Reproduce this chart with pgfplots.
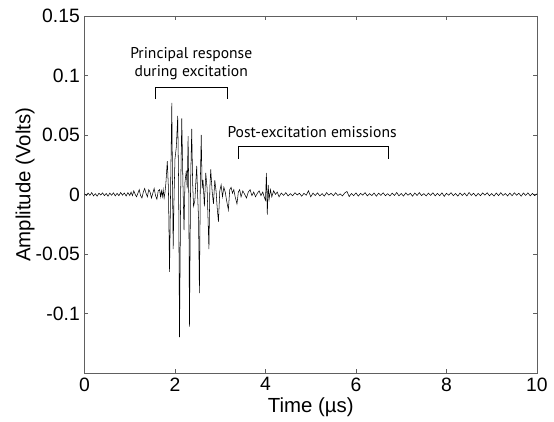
\documentclass[border=0pt]{standalone}
\usepackage{fontspec}
\setmainfont{Liberation Sans}
\newfontfamily\annfont{PT Sans}
\usepackage{pgfplots}
\pgfplotsset{compat=1.18}
\begin{document}
\begin{tikzpicture}
\begin{axis}[
  scale only axis,
  width=339.4pt, height=267.75pt,
  xmin=0, xmax=10, ymin=-0.15, ymax=0.15,
  xtick={0,2,4,6,8,10},
  ytick={-0.1,-0.05,0,0.05,0.1,0.15},
  yticklabels={-0.1,-0.05,0,0.05,0.1,0.15},
  tick align=inside,
  major tick length=3pt,
  axis line style={gray!75!black, line width=0.6pt},
  tick style={gray!75!black, line width=0.5pt},
  /pgf/number format/assume math mode=true,
  ticklabel style={font=\fontsize{14.5}{16}\selectfont},
  label style={font=\fontsize{15.3}{17}\selectfont},
  xlabel={Time (µs)},
  ylabel={Amplitude (Volts)},
  xlabel style={at={(axis description cs:0.5,-0.095)}, anchor=center},
  ylabel style={at={(axis description cs:-0.131,0.527)}, anchor=center},
  clip=false,
]
\addplot[black, line width=0.4pt] coordinates {
(0.00,0.0005) (0.04,-0.001) (0.08,0.0012) (0.12,-0.0008) (0.16,0.0015) (0.20,-0.0012)
(0.24,0.0006) (0.28,-0.0014) (0.32,0.001) (0.36,-0.0005) (0.40,0.0013) (0.44,-0.001)
(0.48,0.0008) (0.52,-0.0015) (0.56,0.0011) (0.60,-0.0007) (0.64,0.0014) (0.68,-0.0012)
(0.72,0.0009) (0.76,-0.0010) (0.80,0.0016) (0.84,-0.0006) (0.88,0.0012) (0.92,-0.0013)
(0.96,0.0015) (1.00,-0.0009)
(1.03,0.002) (1.06,-0.001) (1.09,0.003) (1.12,0.000) (1.15,-0.002) (1.18,0.001) (1.21,0.004)
(1.24,-0.001) (1.27,-0.003) (1.30,0.002) (1.33,0.005) (1.36,0.001) (1.39,-0.002) (1.42,0.004)
(1.45,0.002) (1.48,-0.003) (1.51,0.001) (1.54,0.005) (1.57,-0.001) (1.60,-0.004) (1.63,0.003)
(1.66,0.004) (1.68,-0.002)
(1.70,0.003) (1.72,-0.002) (1.74,0.004) (1.76,-0.003) (1.78,0.002) (1.80,0.010) (1.83,0.028)
(1.855,0.005) (1.88,-0.065) (1.905,0.010) (1.93,0.077) (1.945,0.010) (1.96,-0.046) (1.98,0.000)
(2.00,0.030) (2.03,0.040) (2.06,0.066) (2.08,0.010) (2.10,-0.120) (2.125,0.000) (2.15,0.064)
(2.175,0.010) (2.20,-0.030) (2.22,0.010) (2.25,0.020) (2.27,0.005) (2.29,0.049) (2.305,0.000)
(2.32,-0.111) (2.345,0.010) (2.37,0.055) (2.39,0.010) (2.41,-0.010) (2.44,-0.005) (2.46,0.010)
(2.48,0.024) (2.50,0.000) (2.52,-0.020) (2.54,-0.083) (2.56,0.010) (2.58,0.050) (2.60,0.005)
(2.62,0.012) (2.65,-0.010) (2.68,0.018) (2.71,0.005) (2.73,-0.020) (2.75,-0.046) (2.77,0.005)
(2.79,0.021) (2.82,0.003) (2.85,-0.008) (2.88,0.012) (2.91,0.002) (2.93,-0.010) (2.96,-0.023)
(2.99,0.003) (3.02,0.008) (3.05,-0.002) (3.08,0.006) (3.11,0.002) (3.14,-0.005) (3.18,-0.013)
(3.21,0.004) (3.24,0.006) (3.27,0.001) (3.30,0.004) (3.33,-0.002) (3.37,-0.008) (3.40,0.002)
(3.43,0.004) (3.46,-0.002) (3.50,0.003) (3.54,0.000) (3.58,-0.003) (3.62,0.002) (3.66,0.004)
(3.70,-0.001) (3.74,0.002) (3.78,-0.002) (3.82,0.001) (3.86,0.003) (3.90,-0.001) (3.94,0.002)
(3.97,-0.002) (4.00,-0.005) (4.02,0.018) (4.04,-0.017) (4.06,0.008) (4.08,-0.004) (4.11,0.004)
(4.14,-0.002) (4.18,0.003) (4.22,0.000) (4.26,0.002) (4.30,-0.002)
(4.35,0.0012) (4.40,-0.0008) (4.45,0.0015) (4.50,-0.0013) (4.55,0.0006) (4.60,-0.0011)
(4.65,0.0014) (4.70,-0.0005) (4.75,0.0010) (4.80,-0.0015) (4.85,0.0009) (4.90,-0.0007)
(4.95,0.0030) (5.00,-0.0020) (5.05,0.0011) (5.10,-0.0009) (5.15,0.0013) (5.20,-0.0012)
(5.25,0.0007) (5.30,-0.0014) (5.35,0.0015) (5.40,-0.0006) (5.45,0.0010) (5.50,-0.0011)
(5.55,0.0014) (5.60,-0.0009) (5.65,0.0005) (5.70,-0.0013) (5.75,0.0012) (5.80,0.0025)
(5.85,-0.0018) (5.90,0.0008) (5.95,-0.0010) (6.00,0.0013) (6.05,-0.0014) (6.10,0.0009)
(6.15,-0.0006) (6.20,0.0015) (6.25,-0.0012) (6.30,0.0007) (6.35,-0.0010) (6.40,0.0012)
(6.45,-0.0015) (6.50,0.0010) (6.55,-0.0008) (6.60,0.0014) (6.65,-0.0011) (6.70,0.0006)
(6.75,-0.0013) (6.80,0.0011) (6.85,-0.0009) (6.90,0.0016) (6.95,-0.0012) (7.00,0.0008)
(7.05,-0.0014) (7.10,0.0013) (7.15,-0.0007) (7.20,0.0010) (7.25,-0.0015) (7.30,0.0012)
(7.35,-0.0009) (7.40,0.0015) (7.45,-0.0010) (7.50,0.0007) (7.55,-0.0013) (7.60,0.0011)
(7.65,-0.0008) (7.70,0.0014) (7.75,-0.0012) (7.80,0.0009) (7.85,-0.0011) (7.90,0.0013)
(7.95,-0.0016) (8.00,0.0010) (8.05,-0.0007) (8.10,0.0015) (8.15,-0.0010) (8.20,0.0008)
(8.25,-0.0014) (8.30,0.0012) (8.35,-0.0009) (8.40,0.0011) (8.45,-0.0013) (8.50,0.0016)
(8.55,-0.0008) (8.60,0.0010) (8.65,-0.0015) (8.70,0.0009) (8.75,-0.0011) (8.80,0.0013)
(8.85,-0.0006) (8.90,0.0014) (8.95,-0.0012) (9.00,0.0007) (9.05,-0.0014) (9.10,0.0012)
(9.15,-0.0010) (9.20,0.0015) (9.25,-0.0009) (9.30,0.0008) (9.35,-0.0013) (9.40,0.0011)
(9.45,-0.0011) (9.50,0.0014) (9.55,-0.0007) (9.60,0.0010) (9.65,-0.0015) (9.70,0.0012)
(9.75,-0.0008) (9.80,0.0013) (9.85,-0.0012) (9.90,0.0009) (9.95,-0.0010) (10.00,0.0005)
};
% annotations
\draw[black, line width=0.8pt] (axis cs:1.56,0.080) -- (axis cs:1.56,0.090) -- (axis cs:3.17,0.090) -- (axis cs:3.17,0.080);
\draw[black, line width=0.8pt] (axis cs:3.41,0.030) -- (axis cs:3.41,0.040) -- (axis cs:6.71,0.040) -- (axis cs:6.71,0.030);
\node[font=\annfont\fontsize{11.7}{13}\selectfont, align=center, inner sep=0pt] at (axis cs:2.36,0.110) {Principal response\\[1pt]during excitation};
\node[font=\annfont\fontsize{11.7}{13}\selectfont, inner sep=0pt] at (axis cs:5.03,0.052) {Post-excitation emissions};
\coordinate (bl) at (axis cs:-1.867,-0.1912);
\coordinate (tr) at (axis cs:10.376,0.1634);
\end{axis}
\pgfresetboundingbox
\path (bl) rectangle (tr);
\end{tikzpicture}
\end{document}
